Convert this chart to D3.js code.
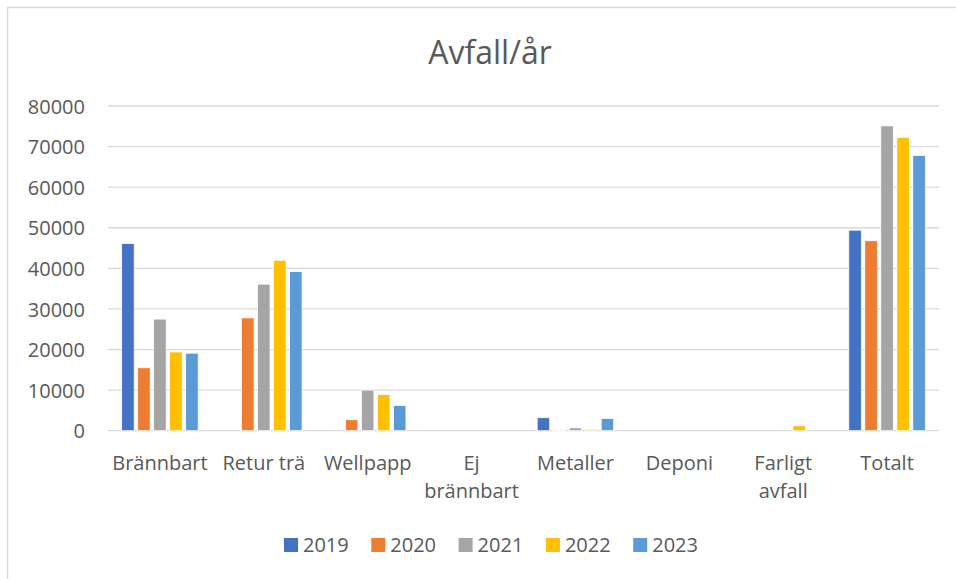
<!DOCTYPE html>
<html>
<head>
<meta charset="utf-8">
<script src="https://cdn.jsdelivr.net/npm/d3@7"></script>
<style>
  body { margin: 0; background: #fff; }
  text { font-family: "Open Sans", sans-serif; fill: #595959; }
</style>
</head>
<body>
<div class="d3-wrapper"></div>
<script>
// Chart data
const categories = ['Brännbart', 'Retur trä', 'Wellpapp', 'Ej brännbart', 'Metaller', 'Deponi', 'Farligt avfall', 'Totalt'];
const years = ['2019', '2020', '2021', '2022', '2023'];
const v2019 = [46100, 0, 0, 0, 3200, 0, 0, 49400];
const v2020 = [15500, 27800, 2700, 0, 200, 0, 0, 46800];
const v2021 = [27500, 36100, 10000, 0, 700, 0, 0, 75100];
const v2022 = [19400, 42000, 8900, 0, 350, 0, 1200, 72300];
const v2023 = [19100, 39200, 6200, 0, 3000, 0, 0, 67800];
const yTicks = [0, 10000, 20000, 30000, 40000, 50000, 60000, 70000, 80000];
const colors = ['#4472c4', '#ed7d31', '#a5a5a5', '#ffc000', '#5b9bd5'];

const series = [v2019, v2020, v2021, v2022, v2023];

const WIDTH = 956, HEIGHT = 579;
const PLOT = { left: 108, right: 939, top: 106, bottom: 430.7 };

const svg = d3.select('.d3-wrapper').append('svg')
  .attr('width', WIDTH)
  .attr('height', HEIGHT);

// chart frame (runs off the right/bottom edge like in the screenshot)
svg.append('rect')
  .attr('x', 7.5).attr('y', 7.5)
  .attr('width', 980).attr('height', 600)
  .attr('fill', '#fff')
  .attr('stroke', '#d9d9d9')
  .attr('stroke-width', 1.5);

const x0 = d3.scaleBand().domain(categories).range([PLOT.left, PLOT.right]).padding(0);
const x1 = d3.scaleBand().domain(years).range([0, x0.bandwidth()])
  .paddingInner(0.22).paddingOuter(0.855);
const y = d3.scaleLinear().domain([0, 80000]).range([PLOT.bottom, PLOT.top]);

// gridlines
svg.append('g')
  .selectAll('line')
  .data(yTicks)
  .enter()
  .append('line')
  .attr('x1', PLOT.left).attr('x2', PLOT.right)
  .attr('y1', d => y(d)).attr('y2', d => y(d))
  .attr('stroke', '#d9d9d9')
  .attr('stroke-width', 1.3);

// y axis labels
const yAxis = d3.axisLeft(y).tickValues(yTicks).tickSize(0).tickPadding(23).tickFormat(d3.format('d'));
svg.append('g')
  .attr('transform', `translate(${PLOT.left}, 0)`)
  .call(yAxis)
  .call(g => g.select('.domain').remove())
  .selectAll('text')
  .attr('font-size', 20)
  .attr('font-family', '"Open Sans", sans-serif')
  .attr('fill', '#595959')
  .attr('dy', '0.36em');

// bars
const groups = svg.append('g')
  .selectAll('g')
  .data(categories)
  .enter()
  .append('g')
  .attr('transform', d => `translate(${x0(d)}, 0)`);

groups.selectAll('rect')
  .data((c, i) => years.map((yr, k) => ({ yr, k, v: series[k][i] })))
  .enter()
  .filter(d => d.v > 0)
  .append('rect')
  .attr('x', d => x1(d.yr))
  .attr('y', d => y(d.v))
  .attr('width', x1.bandwidth())
  .attr('height', d => PLOT.bottom - y(d.v))
  .attr('fill', d => colors[d.k])
  .attr('stroke', '#fff')
  .attr('stroke-width', 0.75);

// category labels, wrapped like Excel when wider than the band
const xAxis = d3.axisBottom(x0).tickSize(0).tickPadding(0);
const xg = svg.append('g')
  .attr('transform', `translate(0, ${PLOT.bottom})`)
  .call(xAxis)
  .call(g => g.select('.domain').remove());

xg.selectAll('text')
  .attr('font-size', 20)
  .attr('font-family', '"Open Sans", sans-serif')
  .attr('fill', '#595959')
  .attr('dy', null)
  .attr('y', 39)
  .each(function (d) {
    const t = d3.select(this);
    if (this.getComputedTextLength() <= x0.bandwidth()) return;
    const words = d.split(' ');
    t.text(null);
    words.forEach((w, i) => {
      t.append('tspan').attr('x', 0).attr('y', 39 + i * 28).text(w);
    });
  });

// title
svg.append('text')
  .attr('x', 490)
  .attr('y', 64)
  .attr('text-anchor', 'middle')
  .attr('font-size', 32)
  .text('Avfall/år');

// legend
const legend = svg.append('g')
  .selectAll('g')
  .data(years)
  .enter()
  .append('g')
  .attr('transform', (d, i) => `translate(${284 + i * 87.3}, 538)`);

legend.append('rect')
  .attr('width', 14).attr('height', 14)
  .attr('fill', (d, i) => colors[i]);

legend.append('text')
  .attr('x', 19)
  .attr('y', 14)
  .attr('font-size', 20)
  .text(d => d);
</script>
</body>
</html>
